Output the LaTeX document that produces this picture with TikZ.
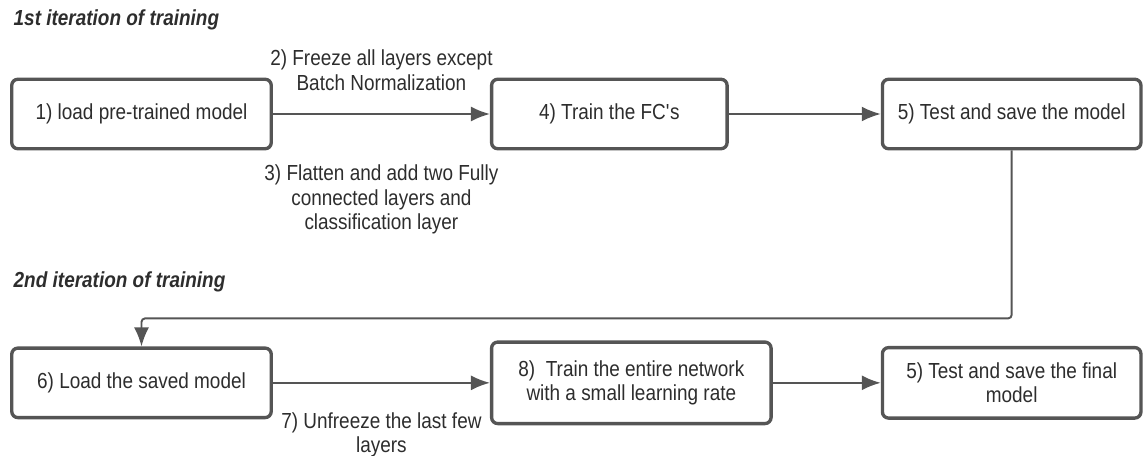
\documentclass[tikz,border=0pt]{standalone}
\usepackage{fontspec}
\setmainfont{Liberation Sans}[FakeStretch=0.87]
\usepackage{xcolor}
\usepackage{tikz}
\usetikzlibrary{arrows.meta,positioning}
\definecolor{edgegray}{RGB}{85,85,85}
\definecolor{ink}{RGB}{45,45,45}

\begin{document}
\begin{tikzpicture}[font=\fontsize{12.4}{14}\selectfont, text=ink,
      stage/.style={draw=edgegray, line width=1.9pt, rounded corners=3.5pt, minimum height=1.39cm, align=center, fill=white},
      flow/.style={draw=edgegray, line width=1.1pt, -{Latex[length=3.8mm,width=3mm]}},
      note/.style={align=center},
      heading/.style={anchor=west, font=\fontsize{12.4}{14}\selectfont\bfseries\itshape}]
    \useasboundingbox (0,0) rectangle (22.88,9.12);
    \node[heading] (iterone) at (0.15,8.72) {1st iteration of training};
    \node[heading] (itertwo) at (0.15,3.48) {2nd iteration of training};
    % first pass
    \node[stage, minimum width=5.19cm] (load) at (2.83,6.84) {1) load pre-trained model};
    \node[stage, minimum width=4.71cm, right=4.34cm of load] (trainfc) {4) Train the FC\textquotesingle s};
    \node[stage, minimum width=5.17cm, right=3.04cm of trainfc] (test) {5) Test and save the model};
    % second pass
    \node[stage, minimum width=5.19cm, below=3.92cm of load] (reload) {6) Load the saved model};
    \node[stage, minimum width=5.59cm, minimum height=1.63cm, right=4.34cm of reload] (trainall) {8)~ Train the entire network\\with a small learning rate};
    \node[stage, minimum width=5.17cm, minimum height=1.41cm, right=2.16cm of trainall] (final) {5) Test and save the final\\model};
    \draw[flow] (load) -- (trainfc)
      node[note, midway, yshift=8.7mm] {2) Freeze all layers except\\Batch Normalization}
      node[note, midway, yshift=-17.1mm] {3) Flatten and add two Fully\\connected layers and\\classification layer};
    \draw[flow] (trainfc) -- (test);
    \draw[flow, rounded corners=2pt] (test.south) |- ([yshift=5.6mm]reload.north) -- (reload.north);
    \draw[flow] (reload) -- (trainall)
      node[note, midway, yshift=-10.4mm] {7) Unfreeze the last few\\layers};
    \draw[flow] (trainall) -- (final);
  \end{tikzpicture}
\end{document}
